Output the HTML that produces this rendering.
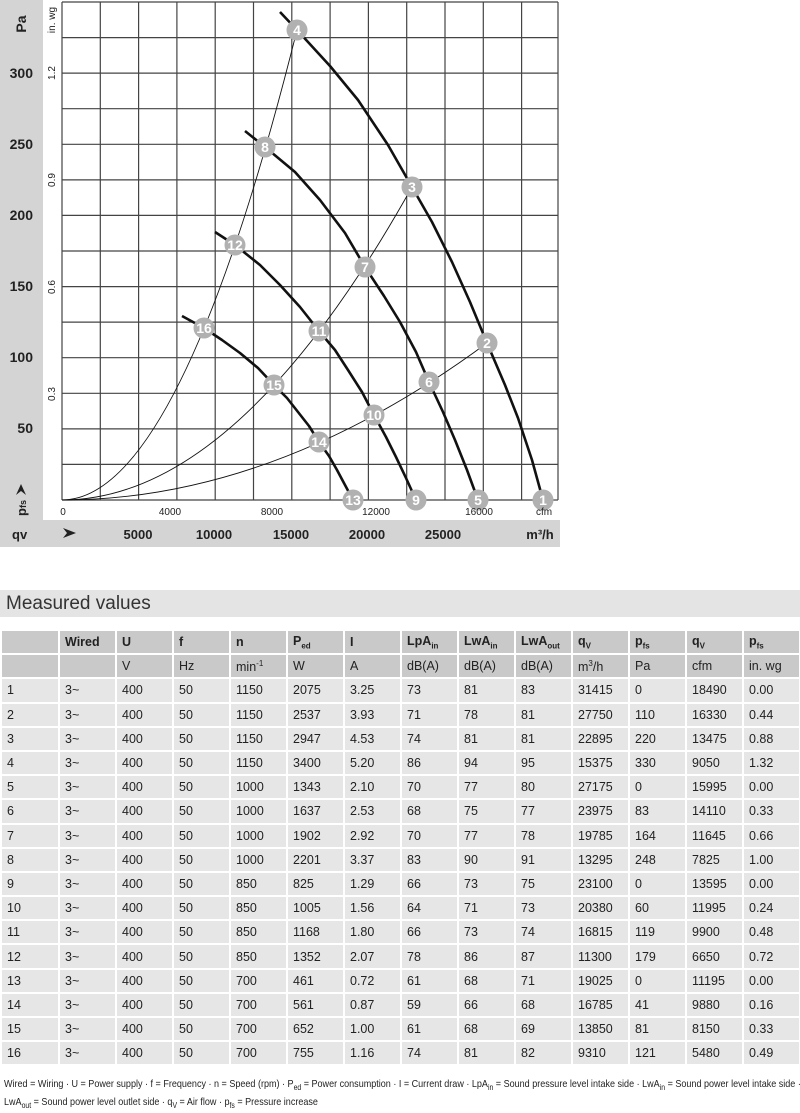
<!DOCTYPE html>
<html><head><meta charset="utf-8"><style>
body{margin:0;width:800px;height:1105px;background:#fff;position:relative;font-family:"Liberation Sans",sans-serif;overflow:hidden}
#mv{position:absolute;left:0;top:590px;width:800px;height:27px;background:#e4e4e4;font-family:"Liberation Sans Narrow","Liberation Sans",sans-serif;font-size:19px;color:#333;line-height:27px;padding-left:6px;box-sizing:border-box}
table{position:absolute;left:0;top:629px;width:800px;table-layout:fixed;border-collapse:collapse;font-family:"Liberation Sans Narrow","Liberation Sans",sans-serif;font-size:12.5px;color:#222}
tr{height:24.2px}
td{border:2px solid #fff;padding:0 0 0 5px;background:#e6e6e6;white-space:nowrap;overflow:hidden}
tr.h td{background:#c9c9c9}
tr.h1 td{font-weight:bold}
sub,sup{font-size:8px}
#foot{position:absolute;left:4px;top:1077px;font-family:"Liberation Sans Narrow","Liberation Sans",sans-serif;font-size:10.5px;color:#222;line-height:15px;white-space:nowrap;transform:scaleX(0.86);transform-origin:0 0}
</style></head><body>
<svg width="800" height="560" style="position:absolute;left:0;top:0" font-family="Liberation Sans, sans-serif">
<rect x="0" y="0" width="560" height="547" fill="#d4d4d4"/>
<rect x="43" y="0" width="517" height="520" fill="#fff"/>
<g stroke="#444" stroke-width="1.2" fill="none">
<path d="M62 2V500M100.3 2V500M138.6 2V500M176.9 2V500M215.2 2V500M253.5 2V500M291.8 2V500M330.1 2V500M368.4 2V500M406.7 2V500M445 2V500M483.3 2V500M521.6 2V500M558 2V500"/>
<path d="M62 2H558M62 37.6H558M62 73.1H558M62 108.7H558M62 144.3H558M62 179.9H558M62 215.4H558M62 251H558M62 286.6H558M62 322.1H558M62 357.7H558M62 393.3H558M62 428.9H558M62 464.4H558M62 500H558"/>
</g>
<g stroke="#111" stroke-width="0.9" fill="none">
<path d="M62 500Q179.5 500 297 30"/>
<path d="M62 500Q237 500 412 187"/>
<path d="M62 500Q274.5 500 487 343"/>
</g>
<g stroke="#111" stroke-width="2.6" fill="none" stroke-linejoin="round">
<polyline points="280,12 297,30 330,66 358,100 388,145 412,187 432,222 452,262 470,302 487,343 505,385 518,418 532,460 543,500"/>
<polyline points="245,131 265,147 295,172 320,200 345,233 365,267 384,296 400,322 416,352 429,382 443,412 455,440 467,470 478,500"/>
<polyline points="215,232 235,245 260,265 280,285 300,307 319,331 335,350 348,370 362,392 374,415 386,437 396,457 406,478 416,500"/>
<polyline points="182,316 204,328 222,340 240,353 258,368 274,385 287,398 298,412 309,426 319,442 329,456 337,470 345,485 353,500"/>
</g>
<g fill="#b1b1b1">
<circle cx="543" cy="500" r="10.5"/><circle cx="487" cy="343" r="10.5"/><circle cx="412" cy="187" r="10.5"/><circle cx="297" cy="30" r="10.5"/>
<circle cx="478" cy="500" r="10.5"/><circle cx="429" cy="382" r="10.5"/><circle cx="365" cy="267" r="10.5"/><circle cx="265" cy="147" r="10.5"/>
<circle cx="416" cy="500" r="10.5"/><circle cx="374" cy="415" r="10.5"/><circle cx="319" cy="331" r="10.5"/><circle cx="235" cy="245" r="10.5"/>
<circle cx="353" cy="500" r="10.5"/><circle cx="319" cy="442" r="10.5"/><circle cx="274" cy="385" r="10.5"/><circle cx="204" cy="328" r="10.5"/>
</g>
<g fill="#fff" font-size="14" font-weight="bold" text-anchor="middle">
<text x="543" y="505">1</text><text x="487" y="348">2</text><text x="412" y="192">3</text><text x="297" y="35">4</text>
<text x="478" y="505">5</text><text x="429" y="387">6</text><text x="365" y="272">7</text><text x="265" y="152">8</text>
<text x="416" y="505">9</text><text x="374" y="420">10</text><text x="319" y="336">11</text><text x="235" y="250">12</text>
<text x="353" y="505">13</text><text x="319" y="447">14</text><text x="274" y="390">15</text><text x="204" y="333">16</text>
</g>
<g font-size="14" font-weight="bold" fill="#222" text-anchor="end">
<text x="33" y="78">300</text><text x="33" y="149">250</text><text x="33" y="220">200</text><text x="33" y="291">150</text><text x="33" y="362">100</text><text x="33" y="433">50</text>
</g>
<text transform="translate(26,24) rotate(-90)" font-size="14" font-weight="bold" fill="#222" text-anchor="middle">Pa</text>
<g font-size="10" fill="#222" text-anchor="middle">
<text transform="translate(55,20) rotate(-90)">in. wg</text>
<text transform="translate(55,73) rotate(-90)">1.2</text>
<text transform="translate(55,180) rotate(-90)">0.9</text>
<text transform="translate(55,287) rotate(-90)">0.6</text>
<text transform="translate(55,394) rotate(-90)">0.3</text>
<text x="63" y="515">0</text><text x="170" y="515">4000</text><text x="272" y="515">8000</text><text x="376" y="515">12000</text><text x="479" y="515">16000</text><text x="544" y="515">cfm</text>
</g>
<text transform="translate(26,508) rotate(-90)" font-size="13" font-weight="bold" fill="#222" text-anchor="middle">p<tspan font-size="9">fs</tspan></text>
<path d="M16 495L21 484L26 495L21 491Z" fill="#222"/>
<g font-size="13" font-weight="bold" fill="#222" text-anchor="middle">
<text x="138" y="539">5000</text><text x="214" y="539">10000</text><text x="291" y="539">15000</text><text x="367" y="539">20000</text><text x="443" y="539">25000</text><text x="540" y="539">m³/h</text>
</g>
<text x="12" y="539" font-size="13" font-weight="bold" fill="#222">qv</text>
<path d="M63 528L76 533L63 538L67 533Z" fill="#222"/>
</svg>
<div id="mv">Measured values</div>
<table>
<colgroup><col style="width:58px"><col span="13" style="width:57px"></colgroup>
<tr class="h h1"><td></td><td>Wired</td><td>U</td><td>f</td><td>n</td><td>P<sub>ed</sub></td><td>I</td><td>LpA<sub>in</sub></td><td>LwA<sub>in</sub></td><td>LwA<sub>out</sub></td><td>q<sub>V</sub></td><td>p<sub>fs</sub></td><td>q<sub>V</sub></td><td>p<sub>fs</sub></td></tr>
<tr class="h"><td></td><td></td><td>V</td><td>Hz</td><td>min<sup>-1</sup></td><td>W</td><td>A</td><td>dB(A)</td><td>dB(A)</td><td>dB(A)</td><td>m<sup>3</sup>/h</td><td>Pa</td><td>cfm</td><td>in. wg</td></tr>
<tr><td>1</td><td>3~</td><td>400</td><td>50</td><td>1150</td><td>2075</td><td>3.25</td><td>73</td><td>81</td><td>83</td><td>31415</td><td>0</td><td>18490</td><td>0.00</td></tr>
<tr><td>2</td><td>3~</td><td>400</td><td>50</td><td>1150</td><td>2537</td><td>3.93</td><td>71</td><td>78</td><td>81</td><td>27750</td><td>110</td><td>16330</td><td>0.44</td></tr>
<tr><td>3</td><td>3~</td><td>400</td><td>50</td><td>1150</td><td>2947</td><td>4.53</td><td>74</td><td>81</td><td>81</td><td>22895</td><td>220</td><td>13475</td><td>0.88</td></tr>
<tr><td>4</td><td>3~</td><td>400</td><td>50</td><td>1150</td><td>3400</td><td>5.20</td><td>86</td><td>94</td><td>95</td><td>15375</td><td>330</td><td>9050</td><td>1.32</td></tr>
<tr><td>5</td><td>3~</td><td>400</td><td>50</td><td>1000</td><td>1343</td><td>2.10</td><td>70</td><td>77</td><td>80</td><td>27175</td><td>0</td><td>15995</td><td>0.00</td></tr>
<tr><td>6</td><td>3~</td><td>400</td><td>50</td><td>1000</td><td>1637</td><td>2.53</td><td>68</td><td>75</td><td>77</td><td>23975</td><td>83</td><td>14110</td><td>0.33</td></tr>
<tr><td>7</td><td>3~</td><td>400</td><td>50</td><td>1000</td><td>1902</td><td>2.92</td><td>70</td><td>77</td><td>78</td><td>19785</td><td>164</td><td>11645</td><td>0.66</td></tr>
<tr><td>8</td><td>3~</td><td>400</td><td>50</td><td>1000</td><td>2201</td><td>3.37</td><td>83</td><td>90</td><td>91</td><td>13295</td><td>248</td><td>7825</td><td>1.00</td></tr>
<tr><td>9</td><td>3~</td><td>400</td><td>50</td><td>850</td><td>825</td><td>1.29</td><td>66</td><td>73</td><td>75</td><td>23100</td><td>0</td><td>13595</td><td>0.00</td></tr>
<tr><td>10</td><td>3~</td><td>400</td><td>50</td><td>850</td><td>1005</td><td>1.56</td><td>64</td><td>71</td><td>73</td><td>20380</td><td>60</td><td>11995</td><td>0.24</td></tr>
<tr><td>11</td><td>3~</td><td>400</td><td>50</td><td>850</td><td>1168</td><td>1.80</td><td>66</td><td>73</td><td>74</td><td>16815</td><td>119</td><td>9900</td><td>0.48</td></tr>
<tr><td>12</td><td>3~</td><td>400</td><td>50</td><td>850</td><td>1352</td><td>2.07</td><td>78</td><td>86</td><td>87</td><td>11300</td><td>179</td><td>6650</td><td>0.72</td></tr>
<tr><td>13</td><td>3~</td><td>400</td><td>50</td><td>700</td><td>461</td><td>0.72</td><td>61</td><td>68</td><td>71</td><td>19025</td><td>0</td><td>11195</td><td>0.00</td></tr>
<tr><td>14</td><td>3~</td><td>400</td><td>50</td><td>700</td><td>561</td><td>0.87</td><td>59</td><td>66</td><td>68</td><td>16785</td><td>41</td><td>9880</td><td>0.16</td></tr>
<tr><td>15</td><td>3~</td><td>400</td><td>50</td><td>700</td><td>652</td><td>1.00</td><td>61</td><td>68</td><td>69</td><td>13850</td><td>81</td><td>8150</td><td>0.33</td></tr>
<tr><td>16</td><td>3~</td><td>400</td><td>50</td><td>700</td><td>755</td><td>1.16</td><td>74</td><td>81</td><td>82</td><td>9310</td><td>121</td><td>5480</td><td>0.49</td></tr>
</table>
<div id="foot">Wired = Wiring · U = Power supply · f = Frequency · n = Speed (rpm) · P<sub>ed</sub> = Power consumption · I = Current draw · LpA<sub>in</sub> = Sound pressure level intake side · LwA<sub>in</sub> = Sound power level intake side ·<br>LwA<sub>out</sub> = Sound power level outlet side · q<sub>V</sub> = Air flow · p<sub>fs</sub> = Pressure increase</div>
</body></html>
